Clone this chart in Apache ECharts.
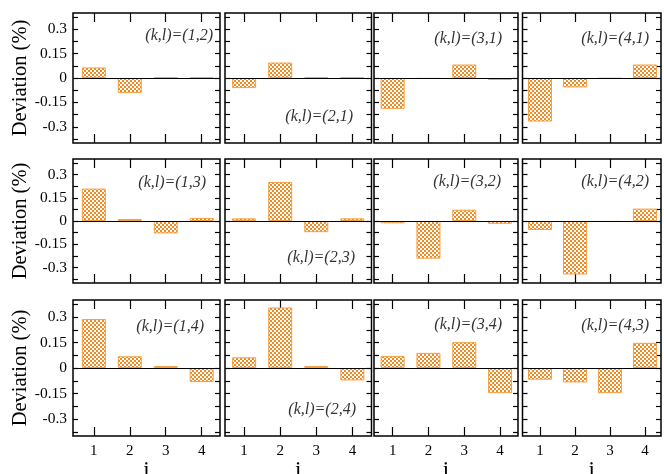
<!DOCTYPE html>
<html>
<head>
<meta charset="utf-8">
<script src="https://cdn.jsdelivr.net/npm/echarts@6/dist/echarts.min.js"></script>
<style>html,body{margin:0;padding:0;background:#fff;}#chart{width:664px;height:474px;}</style>
</head>
<body>
<div id="chart"></div>
<script>
// ---- data ----
const categories = [1, 2, 3, 4];
const yTickValues = [-0.375, -0.3, -0.225, -0.15, -0.075, 0, 0.075, 0.15, 0.225, 0.3, 0.375];
const yLabelValues = [-0.3, -0.15, 0, 0.15, 0.3];
const panelNames = [
  ["(1,2)", "(2,1)", "(3,1)", "(4,1)"],
  ["(1,3)", "(2,3)", "(3,2)", "(4,2)"],
  ["(1,4)", "(2,4)", "(3,4)", "(4,3)"]
];
const dev12 = [0.065, -0.092, 0.003, 0.003];
const dev21 = [-0.062, 0.095, 0.003, 0.003];
const dev31 = [-0.19, -0.005, 0.083, -0.012];
const dev41 = [-0.268, -0.058, -0.004, 0.083];
const dev13 = [0.209, 0.013, -0.08, 0.02];
const dev23 = [0.017, 0.252, -0.072, 0.017];
const dev32 = [-0.015, -0.243, 0.073, -0.018];
const dev42 = [-0.058, -0.345, -0.006, 0.08];
const dev14 = [0.288, 0.069, 0.012, -0.083];
const dev24 = [0.063, 0.356, 0.012, -0.073];
const dev34 = [0.071, 0.089, 0.152, -0.148];
const dev43 = [-0.069, -0.085, -0.148, 0.148];
const panelValues = [
  [dev12, dev21, dev31, dev41],
  [dev13, dev23, dev32, dev42],
  [dev14, dev24, dev34, dev43]
];

// ---- layout ----
const colLeft = [73, 225, 374, 522.5];
const colRight = [220, 371.5, 518, 661];
const rowTop = [13, 159, 300];
const rowBottom = [143, 283, 436];
const xMin = [0.42, 0.47, 0.48, 0.5];
const xMax = [4.51, 4.53, 4.5, 4.46];
const labelRight = [[213, 353, 502, 649], [206, 355, 501, 649], [204, 356, 502, 649]];
const labelY = [[36, 117, 39, 39], [183, 258, 182, 182], [327, 410, 325, 326]];

// checker pattern
const pat = document.createElement('canvas');
pat.width = 4; pat.height = 4;
const pctx = pat.getContext('2d');
pctx.fillStyle = '#f08a22';
pctx.fillRect(0, 0, 4, 4);
pctx.fillStyle = '#ffffff';
pctx.fillRect(0, 0, 2, 2);
pctx.fillRect(2, 2, 2, 2);

const serif = '"Liberation Serif", "DejaVu Serif", serif';
const option = {
  animation: false,
  backgroundColor: '#fff',
  grid: [], xAxis: [], yAxis: [], series: [], graphic: []
};

for (let r = 0; r < 3; r++) {
  for (let c = 0; c < 4; c++) {
    const idx = r * 4 + c;
    option.grid.push({
      left: colLeft[c], top: rowTop[r],
      width: colRight[c] - colLeft[c], height: rowBottom[r] - rowTop[r],
      show: true, borderColor: '#000', borderWidth: 1.5, containLabel: false,
      outerBoundsMode: 'none'
    });
    const xBase = {
      gridIndex: idx, type: 'value', min: xMin[c], max: xMax[c],
      axisLine: { show: false, onZero: false }, splitLine: { show: false },
      axisTick: { show: true, inside: true, length: 9, customValues: categories, lineStyle: { color: '#000', width: 1.2 } }
    };
    option.xAxis.push(Object.assign({}, xBase, {
      position: 'bottom',
      axisLabel: { show: r === 2, customValues: categories, margin: 8, color: '#000', fontFamily: serif, fontSize: 15 },
      name: r === 2 ? 'i' : '', nameLocation: 'middle', nameGap: 22,
      nameTextStyle: { fontFamily: serif, fontSize: 23, color: '#000' }
    }));
    option.xAxis.push(Object.assign({}, xBase, {
      position: 'top', axisLabel: { show: false }
    }));
    const yBase = {
      gridIndex: idx, type: 'value', min: -0.4, max: 0.4,
      axisLine: { show: false, onZero: false }, splitLine: { show: false },
      axisTick: { show: true, inside: true, length: 5, customValues: yTickValues, lineStyle: { color: '#000', width: 1.2 } }
    };
    option.yAxis.push(Object.assign({}, yBase, {
      position: 'left',
      axisLabel: { show: c === 0, customValues: yLabelValues, margin: 6, color: '#000', fontFamily: serif, fontSize: 15.5,
        formatter: v => String(Math.round(v * 1000) / 1000) },
      name: c === 0 ? 'Deviation (%)' : '', nameLocation: 'middle', nameGap: 42,
      nameTextStyle: { fontFamily: serif, fontSize: 20.5, color: '#000' }
    }));
    option.yAxis.push(Object.assign({}, yBase, {
      position: 'right', axisLabel: { show: false }
    }));
    option.series.push({
      type: 'bar', xAxisIndex: idx * 2, yAxisIndex: idx * 2,
      barWidth: 24,
      data: categories.map((cat, i) => [cat, panelValues[r][c][i]]),
      itemStyle: { color: { image: pat, repeat: 'repeat' }, borderColor: '#f5a040', borderWidth: 1 },
      markLine: {
        silent: true, symbol: 'none', label: { show: false },
        lineStyle: { color: '#000', width: 1, type: 'solid' },
        data: [{ yAxis: 0 }]
      }
    });
    option.graphic.push({
      type: 'text', x: labelRight[r][c], y: labelY[r][c], silent: true,
      style: {
        text: '(k,l)=' + panelNames[r][c],
        font: 'italic 16px ' + serif,
        fill: '#333', align: 'right', verticalAlign: 'middle'
      }
    });
  }
}

const chart = echarts.init(document.getElementById('chart'), null, { renderer: 'canvas' });
chart.setOption(option);
</script>
</body>
</html>
